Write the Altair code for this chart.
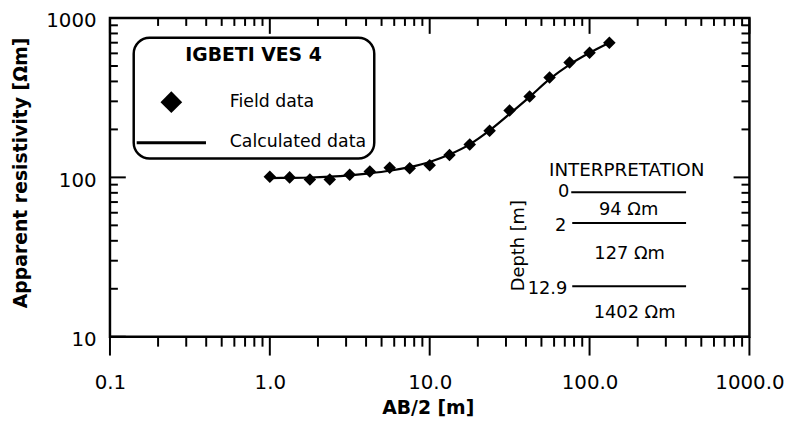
import altair as alt
import pandas as pd

# ---------------- data ----------------
ab2 = [1.0, 1.33, 1.78, 2.37, 3.16, 4.22, 5.62, 7.5, 10.0, 13.3, 17.8, 23.7,
       31.6, 42.2, 56.2, 75.0, 100.0, 133.0]
field_rho = [101, 100, 97, 97, 104, 109, 115, 114, 119, 138, 161, 196,
             263, 322, 424, 525, 606, 699]
calc_rho = [99, 99.3, 99.8, 101, 103, 106, 110, 116, 125, 139, 161, 197,
            250, 320, 413, 510, 605, 700]

x_major = [0.1, 1, 10, 100, 1000]
x_minor = [k * d for d in [0.1, 1, 10, 100] for k in range(2, 10)]
y_major = [10, 100, 1000]
y_minor = [k * d for d in [10, 100] for k in range(2, 10)]

legend_title = "IGBETI VES 4"
legend_labels = ["Field data", "Calculated data"]
interp_title = "INTERPRETATION"
depth_labels = ["0", "2", "12.9"]
layer_labels = ["94 Ωm", "127 Ωm", "1402 Ωm"]
depth_title = "Depth [m]"
x_title = "AB/2 [m]"
y_title = "Apparent resistivity [Ωm]"

# ---------------- layout ----------------
W, H = 646, 322
FONT = "DejaVu Sans"
MAJ_IN, MIN_IN = 16, 8
MAJ_OUT, MIN_OUT = 19, 10

xs = alt.Scale(type="log", domain=[0.1, 1000], nice=False)
ys = alt.Scale(type="log", domain=[10, 1000], nice=False)

xaxis = alt.Axis(values=x_major, format=".1f", title=x_title, ticks=False, tickSize=0,
                 domain=False, grid=False, labelFont=FONT, labelFontSize=20,
                 labelColor="black", labelPadding=36, labelFlush=False,
                 labelOverlap=False, titleFont=FONT, titleFontSize=19,
                 titleFontWeight="bold", titleColor="black", titleX=321, titleY=72,
                 titleAlign="center", titleBaseline="middle")
yaxis = alt.Axis(values=y_major, format="d", title=y_title, ticks=False, tickSize=0,
                 domain=False, grid=False, labelFont=FONT, labelFontSize=20,
                 labelColor="black", labelPadding=14, labelFlush=False,
                 labelOffset=3, labelOverlap=False, titleFont=FONT, titleFontSize=19,
                 titleFontWeight="bold", titleColor="black", titleX=-90, titleY=156,
                 titleAngle=270, titleAlign="center", titleBaseline="middle")


def X():
    return alt.X("ab2:Q", scale=xs, axis=xaxis)


def Y():
    return alt.Y("rho:Q", scale=ys, axis=yaxis)


field_df = pd.DataFrame({"ab2": ab2, "rho": field_rho})
calc_df = pd.DataFrame({"ab2": ab2, "rho": calc_rho})

line = alt.Chart(calc_df).mark_line(color="black", strokeWidth=2.2,
                                    interpolate="monotone").encode(x=X(), y=Y())
points = alt.Chart(field_df).mark_point(shape="diamond", filled=True, size=160,
                                        color="black", opacity=1).encode(x=X(), y=Y())

layers = [line, points]


def xticks(vals, y0, y1):
    return alt.Chart(pd.DataFrame({"ab2": vals})).mark_rule(
        color="black", strokeWidth=2).encode(x=X(), y=alt.value(y0), y2=alt.value(y1))


def yticks(vals, x0, x1):
    return alt.Chart(pd.DataFrame({"rho": vals})).mark_rule(
        color="black", strokeWidth=2).encode(y=Y(), x=alt.value(x0), x2=alt.value(x1))


layers += [
    xticks(x_major, 0, MAJ_IN), xticks(x_minor, 0, MIN_IN),
    xticks(x_major, H, H + MAJ_OUT), xticks(x_minor, H, H + MIN_OUT),
    yticks(y_major, 0, MAJ_IN), yticks(y_minor, 0, MIN_IN),
    yticks(y_major, W - MAJ_IN, W), yticks(y_minor, W - MIN_IN, W),
]


def text_at(t, x, y, size=18, weight="normal", align="center", angle=0):
    return alt.Chart(pd.DataFrame({"t": [t]})).mark_text(
        font=FONT, fontSize=size, fontWeight=weight, align=align,
        baseline="middle", angle=angle, color="black").encode(
        text="t:N", x=alt.value(x), y=alt.value(y))


def hline(x0, x1, y, sw=2):
    return alt.Chart(pd.DataFrame({"t": [0]})).mark_rule(
        color="black", strokeWidth=sw).encode(x=alt.value(x0), x2=alt.value(x1),
                                              y=alt.value(y))


# legend box
box = alt.Chart(pd.DataFrame({"t": [0]})).mark_rect(
    fill="white", stroke="black", strokeWidth=2.5, cornerRadius=16).encode(
    x=alt.value(24), x2=alt.value(267), y=alt.value(20), y2=alt.value(142))
leg_diamond = alt.Chart(pd.DataFrame({"t": [0]})).mark_point(
    shape="diamond", filled=True, size=480, color="black", opacity=1).encode(
    x=alt.value(62), y=alt.value(85))
layers += [
    box,
    text_at(legend_title, 145, 37, size=19, weight="bold"),
    leg_diamond,
    text_at(legend_labels[0], 121, 85, size=17.5, align="left"),
    hline(27, 97, 126, sw=3),
    text_at(legend_labels[1], 121, 125, size=17.5, align="left"),
]

# interpretation inset
layers += [
    text_at(interp_title, 522, 154, size=18.5),
    text_at(depth_labels[0], 464, 176, align="right"),
    hline(466, 582, 176),
    text_at(layer_labels[0], 524, 194),
    text_at(depth_labels[1], 461, 210, align="right"),
    hline(467, 582, 207),
    text_at(layer_labels[1], 525, 238),
    text_at(depth_labels[2], 462, 274, align="right"),
    hline(467, 582, 271),
    text_at(layer_labels[2], 530, 298),
    text_at(depth_title, 413, 230, angle=270),
]

chart = alt.layer(*layers).properties(
    width=W, height=H,
    autosize=alt.AutoSizeParams(type="none"),
    padding={"left": 103, "top": 8, "right": 42, "bottom": 83},
).configure_view(stroke="black", strokeWidth=2.5)

chart.save("out.html", embed_options={"renderer": "svg", "actions": False})
